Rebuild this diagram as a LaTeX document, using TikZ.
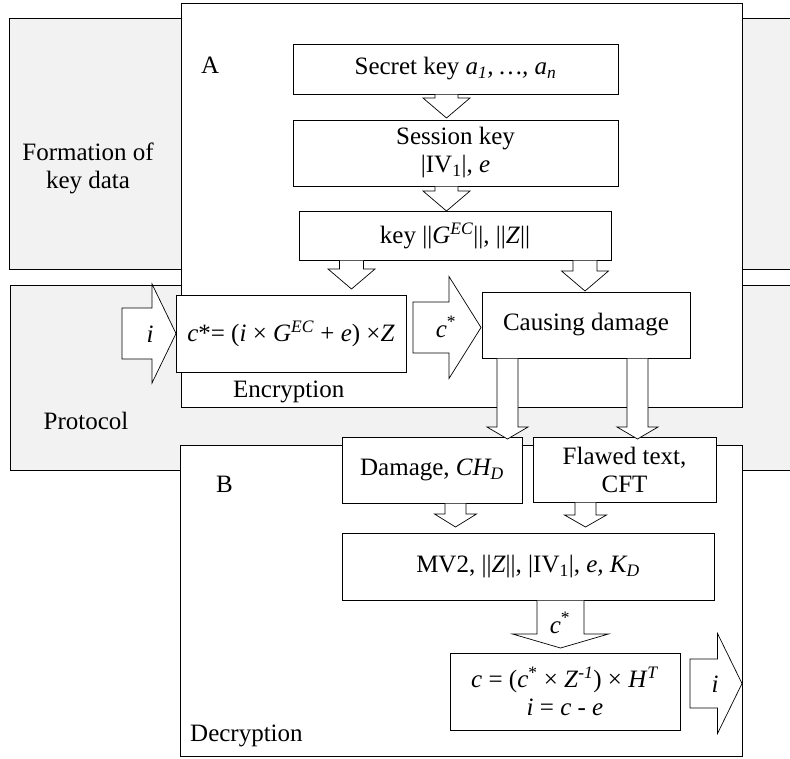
\documentclass[tikz,border=0pt]{standalone}
\usepackage{fontspec}
\setmainfont{Liberation Serif}
\definecolor{panelgray}{RGB}{242,242,242}
\newcommand\mi[1]{\textit{#1}}
% vertical block arrow: cx, top, head base, tip, shaft half, head half
\newcommand\blkdown[6]{%
  \filldraw[blk] ({#1-#5},{#2+0.6}) -- ({#1-#5},{#3}) -- ({#1-#6},{#3}) -- ({#1},{#4})
    -- ({#1+#6},{#3}) -- ({#1+#5},{#3}) -- ({#1+#5},{#2+0.6});}
% horizontal block arrow: cy, left, head base, tip, shaft half, head half
\newcommand\blkright[6]{%
  \filldraw[blk] ({#2},{#1-#5}) -- ({#3},{#1-#5}) -- ({#3},{#1-#6}) -- ({#4},{#1})
    -- ({#3},{#1+#6}) -- ({#3},{#1+#5}) -- ({#2},{#1+#5}) -- cycle;}
\begin{document}
\begin{tikzpicture}[x=1pt,y=-1pt,
  font=\fontsize{25}{28}\selectfont,
  panel/.style={draw=black, line width=1pt, fill=panelgray, inner sep=0pt},
  frame/.style={draw=black, line width=1pt, fill=white, inner sep=0pt},
  box/.style={draw=black, line width=1pt, fill=white, inner sep=0pt, align=center},
  blk/.style={draw=black, line width=0.7pt, fill=white, line join=miter},
  lbl/.style={inner sep=0pt, anchor=base west},
  clbl/.style={inner sep=0pt, anchor=base}]
\useasboundingbox (0,0) rectangle (790,758);
\clip (0,0) rectangle (790,758);

% grey panels (extend beyond right edge)
\node[panel, minimum width=796pt, minimum height=251pt] (form) at (407,143.5) {};
\node[panel, minimum width=795pt, minimum height=185pt] (prot) at (407.5,377.5) {};
% white frames A and B
\node[frame, minimum width=561pt, minimum height=404pt] (A) at (461.5,205) {};
\node[frame, minimum width=562pt, minimum height=311pt] (B) at (461,600.5) {};

% panel / frame labels
\node[clbl] (formL1) at (88,160) {Formation of};
\node[clbl] (formL2) at (88,188) {key data};
\node[clbl] (protL) at (86,429) {Protocol};
\node[lbl] (Alab) at (201,73) {A};
\node[lbl] (Blab) at (216,492) {B};
\node[lbl] (encL) at (233,397) {Encryption};
\node[lbl] (decL) at (190,741) {Decryption};

% boxes
\node[box, minimum width=325pt, minimum height=50pt] (sk) at (455.5,69)
  {Secret key \mi{a\textsubscript{1}, …, a\textsubscript{n}}};
\node[box, minimum width=325pt, minimum height=66pt] (ss) at (455.5,153)
  {Session key\\|IV\textsubscript{1}|, \mi{e}};
\node[box, minimum width=312pt, minimum height=49pt] (kk) at (455,235.5)
  {key ||\mi{G}\textsuperscript{\mi{EC}}||, ||\mi{Z}||};
\node[box, minimum width=230pt, minimum height=77pt] (enc) at (291,333.5)
  {\mi{c}*= (\mi{i} × \mi{G}\textsuperscript{\mi{EC}} + \mi{e}) ×\mi{Z}};
\node[box, minimum width=208pt, minimum height=66pt] (cd) at (586,325)
  {Causing damage};
\node[box, minimum width=180pt, minimum height=66pt] (dm) at (432,470)
  {Damage, \mi{CH\textsubscript{D}}};
\node[box, minimum width=183pt, minimum height=65pt] (ft) at (624.5,469.5)
  {Flawed text,\\CFT};
\node[box, minimum width=372pt, minimum height=67pt] (mv) at (528,566.5)
  {MV2, ||\mi{Z}||, |IV\textsubscript{1}|, \mi{e,} \mi{K\textsubscript{D}}};
\node[box, minimum width=230pt, minimum height=77pt] (dec) at (565,691.5)
  {\mi{c} = (\mi{c}\textsuperscript{*} × \mi{Z}\textsuperscript{\mi{-1}}) × \mi{H}\textsuperscript{\mi{T}}\\\mi{i} = \mi{c} - \mi{e}};

% block arrows (key data)
\blkdown{446.5}{94}{98}{118}{11.5}{23.5}
\blkdown{446.5}{186}{191}{211}{11.5}{23.5}
\blkdown{351.5}{260}{269}{289}{12}{23.5}
\blkdown{585}{260}{271}{291}{12}{23.5}
% damage outputs
\blkdown{507.5}{358}{427}{439}{10.5}{20.5}
\blkdown{637.5}{358}{427}{439}{10.5}{20.5}
% into MV2
\blkdown{455.5}{503}{514}{527}{10.5}{21}
\blkdown{585.5}{502}{515}{527}{10.5}{21}
% MV2 -> decryption
\blkdown{560.5}{600}{634}{648}{23.5}{48}
% horizontal arrows
\blkright{333.5}{122}{152}{176}{25.5}{49.5}
\blkright{327.5}{413}{449}{481}{25.5}{51}
\blkright{683.5}{690}{717.5}{742}{24.5}{50}

% arrow labels
\node[clbl] (iin) at (150,342) {\mi{i}};
\node[clbl] (cst1) at (446,337) {\mi{c}\textsuperscript{*}};
\node[clbl] (cst2) at (560,633) {\mi{c}\textsuperscript{*}};
\node[clbl] (iout) at (715,692) {\mi{i}};
\end{tikzpicture}
\end{document}
